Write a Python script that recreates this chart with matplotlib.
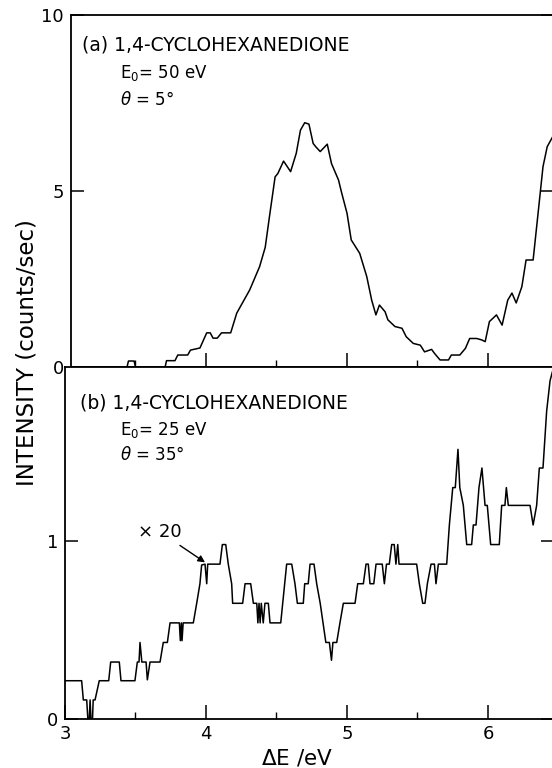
import matplotlib
matplotlib.use("Agg")
import matplotlib.pyplot as plt
from matplotlib.ticker import FixedLocator

plt.rcParams['font.family'] = ['DejaVu Sans']
plt.rcParams['mathtext.fontset'] = 'dejavusans'

# (a) E0 = 50 eV, theta = 5 deg  -- counts/sec
a_energy = [3.00, 3.44, 3.45, 3.49, 3.50, 3.71, 3.72, 3.78, 3.80, 3.87, 3.89, 3.957,
            4.005, 4.03, 4.05, 4.08, 4.11, 4.175, 4.218, 4.25, 4.31, 4.38, 4.42, 4.45,
            4.49, 4.51, 4.55, 4.60, 4.64, 4.67, 4.70, 4.73, 4.76, 4.78, 4.81, 4.86,
            4.89, 4.94, 4.96, 5.00, 5.03, 5.09, 5.14, 5.175, 5.205, 5.23, 5.27, 5.29,
            5.34, 5.39, 5.42, 5.47, 5.52, 5.55, 5.60, 5.62, 5.66, 5.72, 5.74, 5.80,
            5.84, 5.87, 5.92, 5.955, 5.98, 6.01, 6.06, 6.10, 6.14, 6.17, 6.20, 6.24,
            6.27, 6.32, 6.36, 6.39, 6.42, 6.46]
a_counts = [0.0, 0.0, 0.17, 0.17, 0.0, 0.0, 0.18, 0.18, 0.34, 0.34, 0.48, 0.54,
            0.97, 0.97, 0.82, 0.82, 0.97, 0.97, 1.53, 1.76, 2.19, 2.85, 3.40, 4.27,
            5.40, 5.50, 5.85, 5.55, 6.07, 6.73, 6.94, 6.90, 6.35, 6.25, 6.12, 6.33,
            5.78, 5.31, 4.98, 4.37, 3.61, 3.23, 2.57, 1.90, 1.48, 1.76, 1.57, 1.34,
            1.15, 1.10, 0.86, 0.67, 0.62, 0.43, 0.50, 0.39, 0.20, 0.20, 0.34, 0.34,
            0.53, 0.81, 0.81, 0.77, 0.72, 1.29, 1.48, 1.19, 1.90, 2.10, 1.82, 2.28,
            3.04, 3.04, 4.55, 5.69, 6.26, 6.55]

# (b) E0 = 25 eV, theta = 35 deg  -- counts/sec (x20)
b_energy = [3.00, 3.118, 3.13, 3.154, 3.162, 3.172, 3.178, 3.184, 3.195, 3.20, 3.213,
            3.243, 3.31, 3.324, 3.385, 3.397, 3.496, 3.513, 3.525, 3.532, 3.545, 3.575,
            3.584, 3.603, 3.674, 3.697, 3.726, 3.745, 3.811, 3.818, 3.825, 3.83, 3.838,
            3.91, 3.934, 3.957, 3.969, 3.993, 4.005, 4.012, 4.024, 4.099, 4.116, 4.14,
            4.158, 4.182, 4.189, 4.26, 4.277, 4.317, 4.336, 4.36, 4.368, 4.376, 4.384,
            4.392, 4.406, 4.418, 4.442, 4.454, 4.53, 4.544, 4.572, 4.608, 4.631, 4.648,
            4.69, 4.70, 4.725, 4.738, 4.766, 4.785, 4.81, 4.83, 4.85, 4.875, 4.89, 4.90,
            4.927, 4.95, 4.974, 5.057, 5.076, 5.116, 5.135, 5.151, 5.163, 5.19, 5.206,
            5.25, 5.265, 5.28, 5.30, 5.317, 5.335, 5.347, 5.36, 5.369, 5.494, 5.513,
            5.537, 5.553, 5.57, 5.596, 5.62, 5.631, 5.648, 5.707, 5.726, 5.75, 5.768,
            5.787, 5.80, 5.825, 5.849, 5.884, 5.896, 5.915, 5.936, 5.957, 5.979, 5.995,
            6.019, 6.08, 6.097, 6.12, 6.13, 6.144, 6.298, 6.32, 6.345, 6.364, 6.39,
            6.416, 6.44, 6.46]
b_counts = [0.215, 0.215, 0.107, 0.107, 0.0, 0.0, 0.107, 0.0, 0.0, 0.107, 0.107,
            0.215, 0.215, 0.32, 0.32, 0.215, 0.215, 0.32, 0.32, 0.43, 0.32, 0.32,
            0.22, 0.32, 0.32, 0.43, 0.43, 0.54, 0.54, 0.44, 0.54, 0.44, 0.54,
            0.54, 0.65, 0.76, 0.865, 0.87, 0.76, 0.87, 0.87, 0.87, 0.98, 0.98,
            0.87, 0.76, 0.65, 0.65, 0.76, 0.76, 0.65, 0.65, 0.54, 0.65, 0.54,
            0.65, 0.54, 0.65, 0.65, 0.54, 0.54, 0.65, 0.87, 0.87, 0.76, 0.65,
            0.65, 0.76, 0.76, 0.87, 0.87, 0.76, 0.65, 0.54, 0.43, 0.43, 0.33, 0.43,
            0.43, 0.54, 0.65, 0.65, 0.76, 0.76, 0.87, 0.87, 0.76, 0.76, 0.87,
            0.87, 0.76, 0.87, 0.87, 0.98, 0.98, 0.87, 0.98, 0.87, 0.87, 0.76,
            0.65, 0.65, 0.76, 0.87, 0.87, 0.76, 0.87, 0.87, 1.09, 1.30, 1.30,
            1.515, 1.30, 1.20, 0.98, 0.98, 1.09, 1.09, 1.30, 1.41, 1.20, 1.20,
            0.98, 0.98, 1.20, 1.20, 1.30, 1.20, 1.20, 1.09, 1.20, 1.41, 1.41,
            1.73, 1.90, 1.96]

x_major = [3, 4, 5, 6]
x_minor = [3.5, 4.5, 5.5]

fig = plt.figure(figsize=(5.52, 7.68), dpi=100)
ax_a = fig.add_axes([71 / 552, 1 - 367 / 768, (553 - 71) / 552, 352 / 768])
ax_b = fig.add_axes([65 / 552, 1 - 719 / 768, (553 - 65) / 552, 352 / 768])

lw = 1.1
ax_a.plot(a_energy, a_counts, color='black', lw=lw)
ax_b.plot(b_energy, b_counts, color='black', lw=lw)

ax_a.set_xlim(3 + 6 / 141, 3 + 488 / 141)
ax_a.set_ylim(0, 10)
ax_b.set_xlim(3, 3 + 488 / 141)
ax_b.set_ylim(0, 352 / 178)

for ax in (ax_a, ax_b):
    for s in ax.spines.values():
        s.set_linewidth(1.3)
    ax.xaxis.set_major_locator(FixedLocator(x_major))
    ax.xaxis.set_minor_locator(FixedLocator(x_minor))
    ax.tick_params(axis='x', which='major', direction='in', length=10, width=1.1,
                   labelsize=13, pad=4)
    ax.tick_params(axis='x', which='minor', direction='in', length=5, width=1.0)
    ax.tick_params(axis='y', which='major', direction='in', length=9, width=1.1,
                   labelsize=13, pad=5, right=True)

ax_a.set_yticks([0, 5, 10])
ax_a.set_yticklabels(['0', '5', '10'])
ax_a.tick_params(axis='x', labelbottom=False)
ax_b.set_yticks([0, 1])
ax_b.set_yticklabels(['0', '1'])
ax_b.set_xticklabels(['3', '4', '5', '6'])

fs = 13.5
fig.text(82 / 552, 1 - 45 / 768, '(a) 1,4-CYCLOHEXANEDIONE', fontsize=fs, va='center')
fig.text(120 / 552, 1 - 73 / 768, r'E$_0$= 50 eV', fontsize=12, va='center')
fig.text(120 / 552, 1 - 100 / 768, r'$\theta$ = 5°', fontsize=12, va='center')
fig.text(80 / 552, 1 - 403 / 768, '(b) 1,4-CYCLOHEXANEDIONE', fontsize=fs, va='center')
fig.text(120 / 552, 1 - 430 / 768, r'E$_0$= 25 eV', fontsize=12, va='center')
fig.text(120 / 552, 1 - 455 / 768, r'$\theta$ = 35°', fontsize=12, va='center')

ax_b.annotate('× 20', xy=(3.993, 0.88), xytext=(3.83, 1.05),
              fontsize=13, ha='right', va='center',
              arrowprops=dict(arrowstyle='-|>', color='black', lw=1.0,
                              mutation_scale=10, shrinkA=2, shrinkB=0))

fig.text(27 / 552, 1 - 353 / 768, 'INTENSITY (counts/sec)', rotation=90,
         fontsize=16.5, va='center', ha='center')
fig.text(297 / 552, 1 - 758 / 768, r'$\Delta$E /eV', fontsize=15.5,
         va='center', ha='center')

fig.savefig('out.png', dpi=100)
